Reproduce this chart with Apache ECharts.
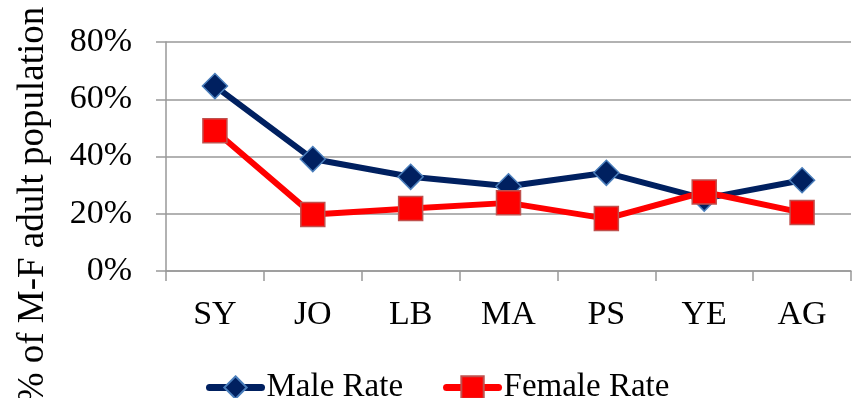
<!DOCTYPE html>
<html>
<head>
<meta charset="utf-8">
<style>
  html, body { margin: 0; padding: 0; background: #fff; }
  #chart { width: 862px; height: 398px; }
</style>
<script src="https://cdn.jsdelivr.net/npm/echarts@6/dist/echarts.min.js"></script>
</head>
<body>
<div id="chart"></div>
<script>
// Country codes along the x axis
const categories = ['SY', 'JO', 'LB', 'MA', 'PS', 'YE', 'AG'];
// Rates in percent of the male/female adult population
const maleRate = [64.6, 39.1, 32.9, 29.6, 34.3, 25.3, 31.7];
const femaleRate = [49.0, 19.7, 21.8, 23.8, 18.3, 27.6, 20.4];
// Percent axis ticks
const yTicks = [0, 20, 40, 60, 80];
const yTitle = '% of M-F adult population';

const FONT = '"Liberation Serif", "Times New Roman", serif';
const GRID_GRAY = '#999999';

const chart = echarts.init(document.getElementById('chart'), null, { renderer: 'canvas' });

chart.setOption({
  animation: false,
  backgroundColor: '#ffffff',
  grid: { left: 166, right: 11, top: 42, bottom: 127, containLabel: false },
  xAxis: {
    type: 'category',
    data: categories,
    boundaryGap: true,
    axisLine: { show: true, lineStyle: { color: GRID_GRAY, width: 1.5 } },
    axisTick: { show: true, length: 10, lineStyle: { color: GRID_GRAY, width: 1.5 } },
    axisLabel: { color: '#000', fontFamily: FONT, fontSize: 34, margin: 27 }
  },
  yAxis: {
    type: 'value',
    min: yTicks[0],
    max: yTicks[yTicks.length - 1],
    interval: 20,
    axisLine: { show: true, lineStyle: { color: GRID_GRAY, width: 1.5 } },
    axisTick: { show: true, length: 10, lineStyle: { color: GRID_GRAY, width: 1.5 } },
    splitLine: { show: true, lineStyle: { color: GRID_GRAY, width: 1.5 } },
    axisLabel: {
      color: '#000', fontFamily: FONT, fontSize: 34, margin: 34,
      formatter: v => v + '%'
    }
  },
  legend: {
    data: ['Male Rate', 'Female Rate'],
    left: 201,
    top: 366,
    itemWidth: 52,
    itemHeight: 28,
    itemGap: 40,
    textStyle: { color: '#000', fontFamily: FONT, fontSize: 33 },
    lineStyle: { width: 7, cap: 'round' }
  },
  graphic: [{
    type: 'text',
    x: 33,
    y: 205,
    rotation: Math.PI / 2,
    style: {
      text: yTitle,
      fontFamily: FONT,
      fontSize: 37,
      fill: '#000',
      align: 'center',
      verticalAlign: 'middle'
    }
  }],
  series: [
    {
      name: 'Male Rate',
      type: 'line',
      data: maleRate,
      symbol: 'diamond',
      symbolSize: 25,
      lineStyle: { color: '#002060', width: 6 },
      itemStyle: { color: '#002060', borderColor: '#4a7ebb', borderWidth: 1.5 },
      z: 2
    },
    {
      name: 'Female Rate',
      type: 'line',
      data: femaleRate,
      symbol: 'rect',
      symbolSize: 24,
      lineStyle: { color: '#ff0000', width: 6 },
      itemStyle: { color: '#ff0000', borderColor: '#c0504d', borderWidth: 1.5 },
      z: 3
    }
  ]
});
</script>
</body>
</html>
